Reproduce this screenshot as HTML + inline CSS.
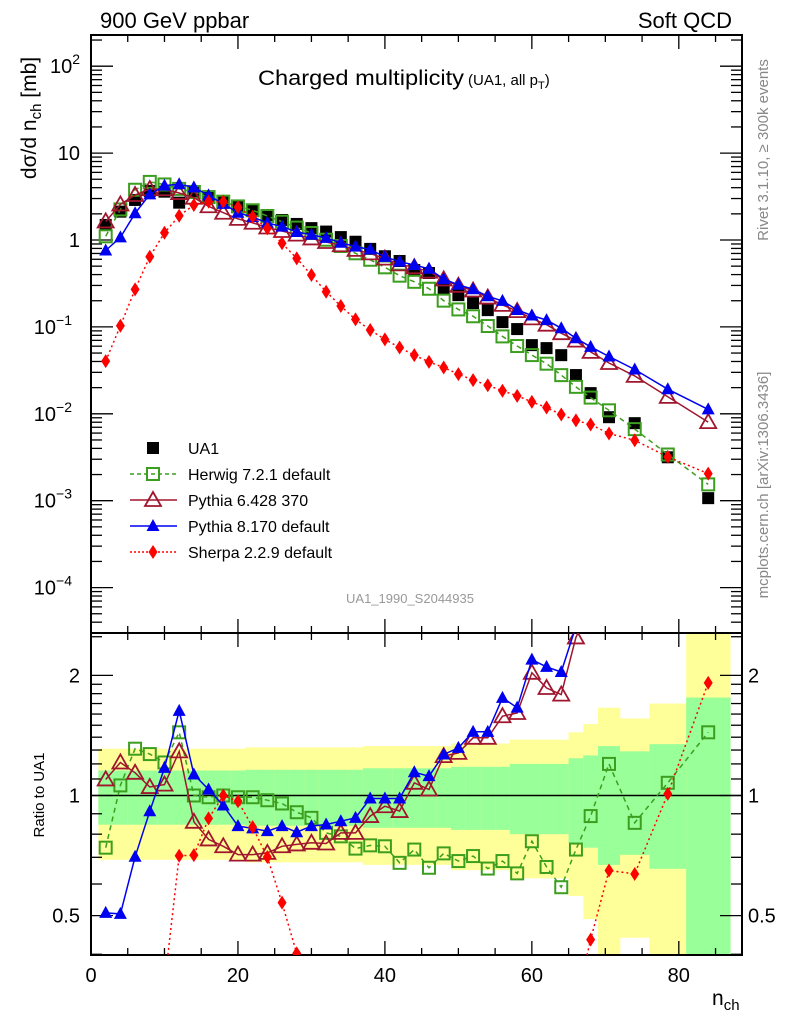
<!DOCTYPE html>
<html><head><meta charset="utf-8"><style>
html,body{margin:0;padding:0;background:#fff;width:786px;height:1024px;overflow:hidden;}
svg{position:absolute;left:0;top:0;font-family:"Liberation Sans",sans-serif;}
</style></head><body>
<svg id="chart" width="786" height="1024" viewBox="0 0 786 1024" xmlns="http://www.w3.org/2000/svg">
<defs>
<clipPath id="clipTop"><rect x="91" y="35" width="651" height="598"/></clipPath>
<clipPath id="clipRat"><rect x="91" y="633" width="651" height="322"/></clipPath>
</defs>
<text x="100" y="28" font-size="22">900 GeV ppbar</text>
<text x="732" y="28" font-size="22" text-anchor="end">Soft QCD</text>
<text x="258" y="85" font-size="21" textLength="206" lengthAdjust="spacingAndGlyphs">Charged multiplicity</text>
<text x="468" y="85" font-size="15">(UA1, all p<tspan font-size="11" dy="4">T</tspan><tspan dy="-4">)</tspan></text>
<text transform="translate(36,118) rotate(-90)" font-size="21" text-anchor="middle">dσ/d n<tspan font-size="15" dy="5">ch</tspan><tspan dy="-5"> [mb]</tspan></text>
<text transform="translate(44,795) rotate(-90)" font-size="15" text-anchor="middle">Ratio to UA1</text>
<text x="712" y="1005" font-size="21">n<tspan font-size="15" dy="5">ch</tspan></text>
<text transform="translate(768,150) rotate(-90)" font-size="15" fill="#888" text-anchor="middle">Rivet 3.1.10, ≥ 300k events</text>
<text transform="translate(768,485) rotate(-90)" font-size="15" fill="#888" text-anchor="middle">mcplots.cern.ch [arXiv:1306.3436]</text>
<text x="410" y="603" font-size="13" fill="#999" text-anchor="middle">UA1_1990_S2044935</text>
<g id="bands" clip-path="url(#clipRat)"></g>
<g id="axes"></g>
<g id="topPlot" clip-path="url(#clipTop)"></g>
<g id="ratPlot" clip-path="url(#clipRat)"></g>
<g id="legend"></g>
</svg>
<script>
const nch = [2,4,6,8,10,12,14,16,18,20,22,24,26,28,30,32,34,36,38,40,42,44,46,48,50,52,54,56,58,60,62,64,66,68,70.5,74,78.5,84];
const binLo = [1,3,5,7,9,11,13,15,17,19,21,23,25,27,29,31,33,35,37,39,41,43,45,47,49,51,53,55,57,59,61,63,65,67,69,72,76,81];
const binHi = [3,5,7,9,11,13,15,17,19,21,23,25,27,29,31,33,35,37,39,41,43,45,47,49,51,53,55,57,59,61,63,65,67,69,72,76,81,87];
const ua1 = [1.49,2.12,2.89,3.67,3.6,2.69,3.57,3.15,2.76,2.46,2.22,1.94,1.70,1.53,1.37,1.25,1.08,0.955,0.79,0.65,0.573,0.451,0.417,0.280,0.232,0.188,0.156,0.1135,0.0944,0.0617,0.057,0.0473,0.0279,0.0173,0.00914,0.0078,0.00316,0.00107];
const statErr = [0.155,0.155,0.155,0.155,0.155,0.155,0.155,0.155,0.155,0.155,0.16,0.16,0.16,0.16,0.16,0.16,0.16,0.16,0.17,0.17,0.17,0.17,0.17,0.17,0.18,0.18,0.18,0.18,0.20,0.20,0.20,0.20,0.24,0.26,0.33,0.29,0.345,0.76];
const totErr = [0.31,0.31,0.31,0.31,0.31,0.31,0.31,0.31,0.31,0.31,0.32,0.32,0.32,0.32,0.32,0.32,0.32,0.32,0.33,0.33,0.33,0.33,0.33,0.33,0.35,0.35,0.35,0.35,0.38,0.38,0.38,0.38,0.44,0.51,0.66,0.56,0.70,1.8];
const herwigRatio = [0.74,1.06,1.31,1.27,1.21,1.44,1.0,0.99,1.0,0.99,0.99,0.973,0.955,0.908,0.879,0.806,0.79,0.736,0.75,0.746,0.678,0.732,0.659,0.716,0.685,0.705,0.656,0.685,0.638,0.768,0.662,0.589,0.732,0.888,1.20,0.854,1.076,1.44];
const pythia6Ratio = [1.097,1.21,1.14,1.05,1.065,1.29,0.859,0.776,0.746,0.711,0.711,0.718,0.746,0.754,0.761,0.758,0.806,0.806,0.888,0.94,0.914,1.076,1.035,1.255,1.279,1.395,1.395,1.58,1.61,2.03,1.86,1.79,2.49,2.98,4.2,3.5,4.96,7.5];
const pythia8Ratio = [0.508,0.505,0.702,0.913,1.173,1.63,1.129,1.035,0.944,0.838,0.827,0.814,0.838,0.809,0.838,0.846,0.862,0.879,0.983,0.983,0.983,1.144,1.118,1.267,1.316,1.444,1.444,1.757,1.66,2.19,2.10,2.04,2.65,3.41,5.0,4.15,6.07,10.5];
const sherpa = [0.0404,0.103,0.270,0.642,1.21,1.90,2.53,2.76,2.76,2.38,1.85,1.36,0.916,0.615,0.395,0.254,0.174,0.122,0.092,0.0718,0.058,0.0473,0.0396,0.0341,0.0286,0.0244,0.0213,0.0184,0.0161,0.0137,0.0118,0.0098,0.0084,0.00753,0.00593,0.00496,0.00319,0.00205];
const xTicks = [0,20,40,60,80];
const yTopDecades = [2,1,0,-1,-2,-3,-4];
const ratioTicks = [0.5,1,2];

const NS = "http://www.w3.org/2000/svg";
const X0 = 91, X1 = 742, XMAX = 88.6;
const sx = n => X0 + n * (X1 - X0) / XMAX;
const sy = v => 240 - 86.9 * Math.log10(v);
const ry = r => 795.5 - 399 * Math.log10(r);
function mk(tag, attrs, parent) {
  const e = document.createElementNS(NS, tag);
  for (const k in attrs) e.setAttribute(k, attrs[k]);
  parent.appendChild(e);
  return e;
}
const axes = document.getElementById('axes');
const bands = document.getElementById('bands');
const topG = document.getElementById('topPlot');
const ratG = document.getElementById('ratPlot');
const legG = document.getElementById('legend');

for (let i = 0; i < nch.length; i++) {
  const x = sx(binLo[i]), w = sx(binHi[i]) - sx(binLo[i]);
  const lo = Math.max(1 - totErr[i], 0.01), hi = 1 + totErr[i];
  const y = mk('rect', {x: x, y: ry(hi), width: w + 0.3, height: ry(lo) - ry(hi), fill: '#ffff99'}, bands);
  
  
  const glo = Math.max(1 - statErr[i], 0.01), ghi = 1 + statErr[i];
  const g = mk('rect', {x: x, y: ry(ghi), width: w + 0.3, height: ry(glo) - ry(ghi), fill: '#99ff99'}, bands);
  
  
}

const f1 = mk('rect', {x: X0, y: 35, width: X1 - X0, height: 598, fill: 'none', stroke: '#000', 'stroke-width': 2}, axes);


const f2 = mk('rect', {x: X0, y: 633, width: X1 - X0, height: 322, fill: 'none', stroke: '#000', 'stroke-width': 2}, axes);



for (let n = 0; n <= 85; n += 5) {
  const x = sx(n), L = (n % 20 === 0) ? 14 : 7;
  for (const [yb, d] of [[35, 1], [633, -1], [633, 1], [955, -1]]) {
    mk('line', {x1: x, x2: x, y1: yb, y2: yb + d * L, stroke: '#000', 'stroke-width': 1.3}, axes);
  }
}
xTicks.forEach(t => {
  const tx = mk('text', {x: sx(t), y: 982, 'font-size': 20, 'text-anchor': 'middle'}, axes);
  
  
  tx.textContent = t;
});

for (let d = -5; d <= 2; d++) {
  for (let m = 1; m <= 9; m++) {
    const v = m * Math.pow(10, d), y = sy(v);
    if (y < 35 || y > 633) continue;
    const L = m === 1 ? 22 : 11;
    mk('line', {x1: X0, x2: X0 + L, y1: y, y2: y, stroke: '#000', 'stroke-width': 1.3}, axes);
    mk('line', {x1: X1, x2: X1 - L, y1: y, y2: y, stroke: '#000', 'stroke-width': 1.3}, axes);
  }
}
yTopDecades.forEach(d => {
  const y = sy(Math.pow(10, d)) + 7;
  const t = mk('text', {x: 80, y: y, 'font-size': 20, 'text-anchor': 'end'}, axes);
  
  
  if (d === 0) t.textContent = '1';
  else if (d === 1) t.textContent = '10';
  else {
    t.textContent = '10';
    const s = mk('tspan', {'font-size': 14, dy: -9}, t);
    s.textContent = d === 2 ? '2' : '\u2212' + (-d);
    t.setAttribute('x', 88 - (d === 2 ? 8 : 16));
  }
});

const rminor = [0.4,0.5,0.6,0.7,0.8,0.9,1,1.1,1.2,1.3,1.4,1.5,1.6,1.7,1.8,1.9,2,2.5];
rminor.forEach(r => {
  const y = ry(r), L = ratioTicks.includes(r) ? 22 : 11;
  mk('line', {x1: X0, x2: X0 + L, y1: y, y2: y, stroke: '#000', 'stroke-width': 1.3}, axes);
  mk('line', {x1: X1, x2: X1 - L, y1: y, y2: y, stroke: '#000', 'stroke-width': 1.3}, axes);
});
ratioTicks.forEach(r => {
  const a = mk('text', {x: 80, y: ry(r) + 7, 'font-size': 20, 'text-anchor': 'end'}, axes);
  
  
  a.textContent = r;
  const b = mk('text', {x: 748, y: ry(r) + 7, 'font-size': 20}, axes);
  
  
  b.textContent = r;
});
const ref = mk('line', {x1: X0, x2: X1, y1: ry(1), y2: ry(1), stroke: '#000', 'stroke-width': 1.5}, ratG);



function marker(g, type, x, y, color) {
  let e;
  if (type === 'sq') e = mk('rect', {x: x - 6, y: y - 6, width: 12, height: 12, fill: color}, g);
  else if (type === 'osq') e = mk('rect', {x: x - 6, y: y - 6, width: 12, height: 12, fill: 'none', stroke: color, 'stroke-width': 2}, g);
  else if (type === 'otri') e = mk('polygon', {points: `${x},${y-8} ${x-8},${y+6} ${x+8},${y+6}`, fill: 'none', stroke: color, 'stroke-width': 1.8}, g);
  else if (type === 'tri') e = mk('polygon', {points: `${x},${y-7} ${x-6.5},${y+5} ${x+6.5},${y+5}`, fill: color}, g);
  else e = mk('polygon', {points: `${x},${y-7} ${x-4.5},${y} ${x},${y+7} ${x+4.5},${y}`, fill: color}, g);
  return e;
}
function series(g, xs, ys, color, dash, type, name, showLine) {
  if (showLine) {
    const pts = xs.map((x, i) => x.toFixed(1) + ',' + ys[i].toFixed(1)).join(' ');
    const pl = mk('polyline', {points: pts, fill: 'none', stroke: color, 'stroke-width': 1.5, 'stroke-dasharray': dash}, g);
    
    
  }
  xs.forEach((x, i) => {
    const m = marker(g, type, x, ys[i], color);
    
    
  });
}
const xs = nch.map(sx);
const herwig = herwigRatio.map((r, i) => r * ua1[i]);
const pythia6 = pythia6Ratio.map((r, i) => r * ua1[i]);
const pythia8 = pythia8Ratio.map((r, i) => r * ua1[i]);
const sherpaRatio = sherpa.map((v, i) => v / ua1[i]);

series(topG, xs, ua1.map(sy), '#000', '', 'sq', 'ua1', false);
series(topG, xs, herwig.map(sy), '#3c9e1e', '5,4', 'osq', 'herwig', true);
series(topG, xs, pythia6.map(sy), '#a0162e', '', 'otri', 'pythia6', true);
series(topG, xs, pythia8.map(sy), '#0000f0', '', 'tri', 'pythia8', true);
series(topG, xs, sherpa.map(sy), '#ff0000', '2,3', 'dia', 'sherpa', true);

series(ratG, xs, herwigRatio.map(ry), '#3c9e1e', '5,4', 'osq', 'herwig-ratio', true);
series(ratG, xs, pythia6Ratio.map(ry), '#a0162e', '', 'otri', 'pythia6-ratio', true);
series(ratG, xs, pythia8Ratio.map(ry), '#0000f0', '', 'tri', 'pythia8-ratio', true);
series(ratG, xs, sherpaRatio.map(ry), '#ff0000', '2,3', 'dia', 'sherpa-ratio', true);

const legItems = [
  ['UA1', '#000', '', 'sq', false],
  ['Herwig 7.2.1 default', '#3c9e1e', '4,3', 'osq', true],
  ['Pythia 6.428 370', '#a0162e', '', 'otri', true],
  ['Pythia 8.170 default', '#0000f0', '', 'tri', true],
  ['Sherpa 2.2.9 default', '#ff0000', '2,2', 'dia', true]
];
legItems.forEach((it, i) => {
  const y = 448 + i * 26;
  const g = mk('g', {}, legG);
  
  
  if (it[4]) mk('line', {x1: 130, x2: 177, y1: y, y2: y, stroke: it[1], 'stroke-width': 1.5, 'stroke-dasharray': it[2]}, g);
  marker(g, it[3], 153, y, it[1]);
  const t = mk('text', {x: 188, y: y + 6, 'font-size': 16}, g);
  t.textContent = it[0];
});
</script>
</body></html>
